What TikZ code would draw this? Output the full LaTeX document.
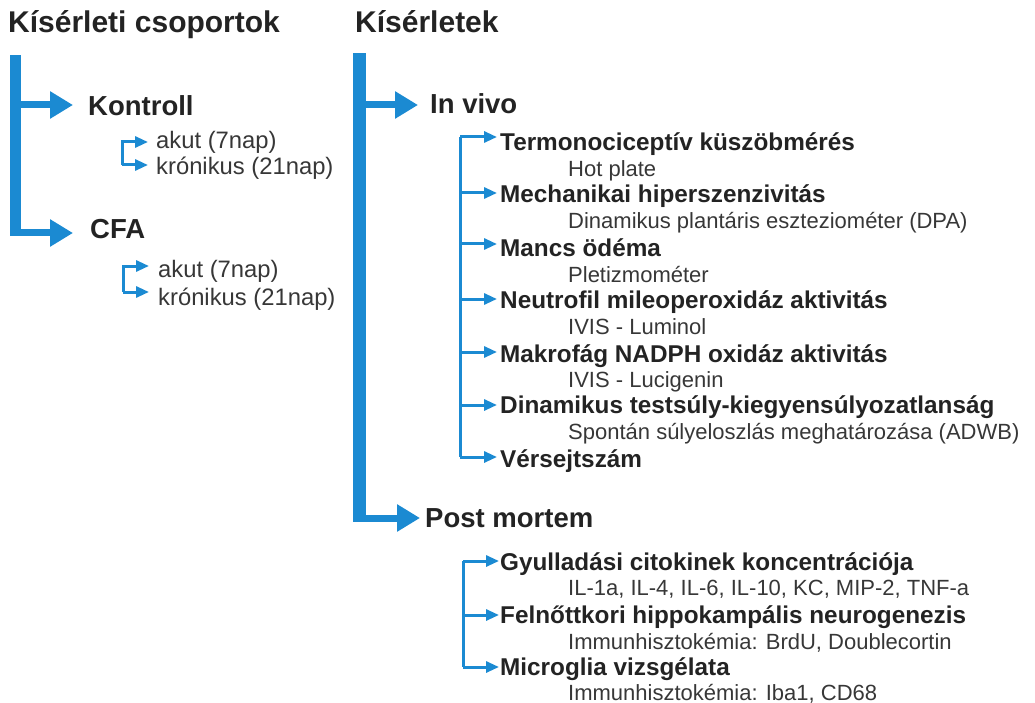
\documentclass[tikz,border=0pt]{standalone}
\usepackage{fontspec}
\setmainfont{Liberation Sans}
\usetikzlibrary{arrows.meta}
\definecolor{bl}{RGB}{27,138,210}
\definecolor{tx}{RGB}{35,35,35}
\definecolor{tx2}{RGB}{55,55,55}
\tikzset{
  lbl/.style={anchor=base west,inner sep=0pt,text=tx},
  title/.style={lbl,font=\fontsize{30}{36}\selectfont\bfseries},
  lvl/.style={lbl,font=\fontsize{27.5}{33}\selectfont\bfseries},
  item/.style={lbl,font=\fontsize{24.3}{29}\selectfont\bfseries},
  sub/.style={lbl,text=tx2,font=\fontsize{22}{27}\selectfont},
  lsub/.style={lbl,text=tx2,font=\fontsize{23.8}{28}\selectfont},
  bigarr/.style={draw=bl,line width=7pt,-{Triangle[length=23pt,width=26pt]}},
  thinarr/.style={draw=bl,line width=3pt,-{Triangle[length=13pt,width=11pt]}},
  bracket/.style={draw=bl,line width=3pt},
}
\begin{document}
\begin{tikzpicture}[x=1pt,y=-1pt]
\useasboundingbox (0,0) rectangle (1035,703);
% titles
\node[title] (t1) at (8,33) {Kísérleti csoportok};
\node[title] (t2) at (355,33) {Kísérletek};
% left column
\fill[bl] (10,55) rectangle (21,236.5);
\node[lvl] (kontroll) at (88,116) {Kontroll};
\node[lvl] (cfa) at (90,239) {CFA};
\coordinate (lk) at (15,105);
\coordinate (lc) at (15,233);
\coordinate (lkt) at (73,105);
\coordinate (lct) at (73,233);
\draw[bigarr] (lk) -- (lkt);
\draw[bigarr] (lc) -- (lct);
% Kontroll subs
\node[lsub] (k1) at (156,149) {akut (7nap)};
\node[lsub] (k2) at (156,175) {krónikus (21nap)};
\coordinate (kb1) at (122,142);
\coordinate (kb2) at (122,165);
\draw[thinarr] (kb2) -- (kb1) -- (148,142);
\draw[thinarr] (kb2) -- (148,165);
% CFA subs
\node[lsub] (c1) at (158,277) {akut (7nap)};
\node[lsub] (c2) at (158,305) {krónikus (21nap)};
\coordinate (cb1) at (123,266);
\coordinate (cb2) at (123,292);
\draw[thinarr] (cb2) -- (cb1) -- (149,266);
\draw[thinarr] (cb2) -- (149,292);
% right column
\fill[bl] (353,53) rectangle (366,521.5);
\node[lvl] (invivo) at (430,114) {In vivo};
\node[lvl] (post) at (425,527) {Post mortem};
\coordinate (ri) at (360,105);
\coordinate (rp) at (360,518);
\draw[bigarr] (ri) -- (418,105);
\draw[bigarr] (rp) -- (420,518);
% in vivo items
\node[item] (i1) at (500,151) {Termonociceptív küszöbmérés};
\node[sub] (s1) at (568,177) {Hot plate};
\node[item] (i2) at (500,203) {Mechanikai hiperszenzivitás};
\node[sub] (s2) at (568,229) {Dinamikus plantáris eszteziométer (DPA)};
\node[item] (i3) at (500,256) {Mancs ödéma};
\node[sub] (s3) at (568,282) {Pletizmométer};
\node[item] (i4) at (500,308) {Neutrofil mileoperoxidáz aktivitás};
\node[sub] (s4) at (568,334) {IVIS - Luminol};
\node[item] (i5) at (500,362) {Makrofág NADPH oxidáz aktivitás};
\node[sub] (s5) at (568,387) {IVIS - Lucigenin};
\node[item] (i6) at (500,413) {Dinamikus testsúly-kiegyensúlyozatlanság};
\node[sub] (s6) at (568,439) {Spontán súlyeloszlás meghatározása (ADWB)};
\node[item] (i7) at (500,467) {Vérsejtszám};
\draw[bracket] (460,137) -- (460,457);
\foreach \y in {137,193,244,299,352,405,457}{
  \draw[thinarr] (460,\y) -- (497,\y);
}
% post mortem items
\node[item] (p1) at (500,570) {Gyulladási citokinek koncentrációja};
\node[sub] (q1) at (568,595) {IL-1a, IL-4, IL-6, IL-10, KC, MIP-2, TNF-a};
\node[item] (p2) at (500,623) {Felnőttkori hippokampális neurogenezis};
\node[sub] (q2) at (568,649) {Immunhisztokémia: BrdU, Doublecortin};
\node[item] (p3) at (500,675) {Microglia vizsgélata};
\node[sub] (q3) at (568,700) {Immunhisztokémia: Iba1, CD68};
\draw[bracket] (463,561) -- (463,667);
\foreach \y in {561,615,667}{
  \draw[thinarr] (463,\y) -- (499,\y);
}
\end{tikzpicture}
\end{document}
